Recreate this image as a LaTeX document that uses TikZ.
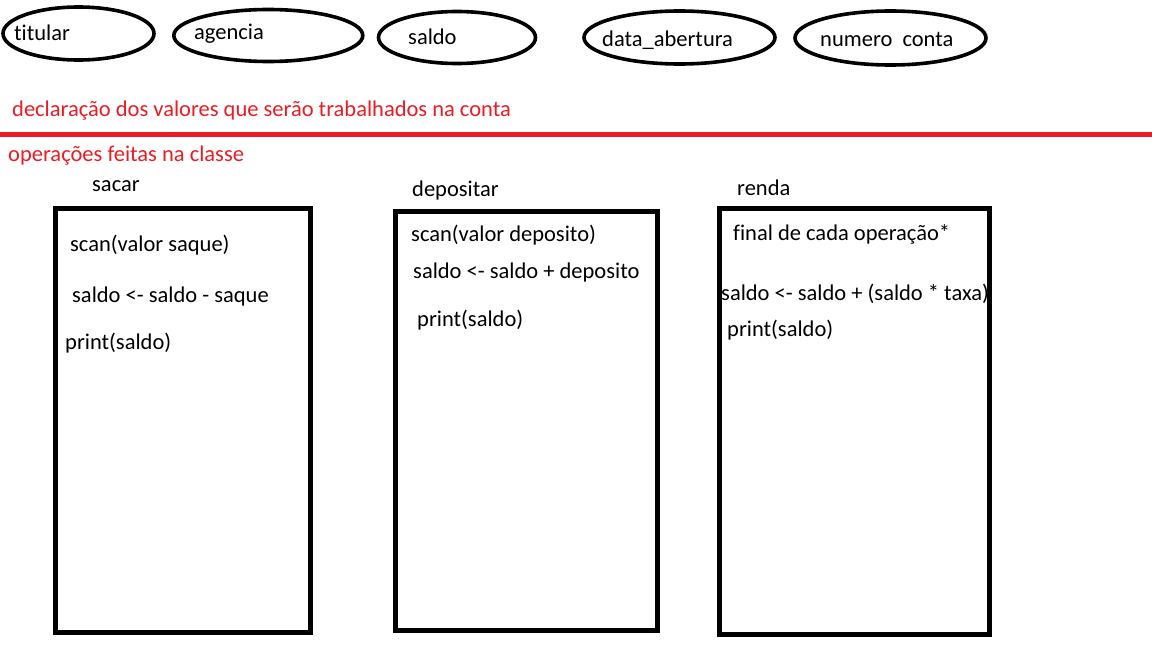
\documentclass[tikz,border=0pt]{standalone}
\usepackage{fontspec}
\setmainfont{Carlito}[Ligatures={NoCommon}]
\usetikzlibrary{shapes.geometric}
\definecolor{paintred}{RGB}{237,28,36}
\tikzset{
  attr/.style={draw=black, line width=3.6pt, ellipse, inner sep=0pt},
  opbox/.style={draw=black, line width=5pt, rectangle, inner sep=0pt},
  txt/.style={anchor=base west, inner sep=0pt, font=\fontsize{22.5}{27}\selectfont, text=black},
  redtxt/.style={txt, text=paintred},
}
\begin{document}
\begin{tikzpicture}[x=1pt,y=-1pt]
\useasboundingbox (0,0) rectangle (1152,648);
% attribute ellipses
\node[attr, minimum width=151pt, minimum height=53pt] (e1) at (78.5,33.5) {};
\node[attr, minimum width=189pt, minimum height=52pt] (e2) at (268.3,35.5) {};
\node[attr, minimum width=157pt, minimum height=52pt] (e3) at (457,37.5) {};
\node[attr, minimum width=191pt, minimum height=53pt] (e4) at (679.5,37.5) {};
\node[attr, minimum width=191pt, minimum height=54pt] (e5) at (890.5,38) {};
\node[txt] (t1) at (14,40) {titular};
\node[txt] (t2) at (194,39) {agencia};
\node[txt] (t3) at (408,44) {saldo};
\node[txt] (t4) at (602,46) {data\_abertura};
\node[txt] (t5) at (820,46.5) {numero\ \ conta};
% red header texts and divider
\node[redtxt] (r1) at (12,116) {declaração dos valores que serão trabalhados na conta};
\coordinate (l1) at (0,134.3);
\coordinate (l2) at (1152,134.3);
\draw[paintred, line width=4.5pt] (l1) -- (l2);
\node[redtxt] (r2) at (8,161) {operações feitas na classe};
% operation titles
\node[txt] (h1) at (92,191.5) {sacar};
\node[txt] (h2) at (412,196.5) {depositar};
\node[txt] (h3) at (737,195) {renda};
% operation boxes
\node[opbox, minimum width=254.8pt, minimum height=423.8pt] (b1) at (182.9,420.6) {};
\node[opbox, minimum width=261.8pt, minimum height=418.3pt] (b2) at (526.6,420.85) {};
\node[opbox, minimum width=270pt, minimum height=425.5pt] (b3) at (854.5,421.25) {};
% box 1 contents
\node[txt] (s1) at (70,251.5) {scan(valor saque)};
\node[txt] (s2) at (72,302) {saldo <- saldo - saque};
\node[txt] (s3) at (65,349) {print(saldo)};
% box 2 contents
\node[txt] (d1) at (411,241.7) {scan(valor deposito)};
\node[txt] (d2) at (413,278.3) {saldo <- saldo + deposito};
\node[txt] (d3) at (417,326.7) {print(saldo)};
% box 3 contents
\node[txt] (n1) at (733,240.7) {final de cada operação*};
\node[txt] (n2) at (721,300.7) {saldo <- saldo + (saldo * taxa)};
\node[txt] (n3) at (727,336.7) {print(saldo)};
\end{tikzpicture}
\end{document}
